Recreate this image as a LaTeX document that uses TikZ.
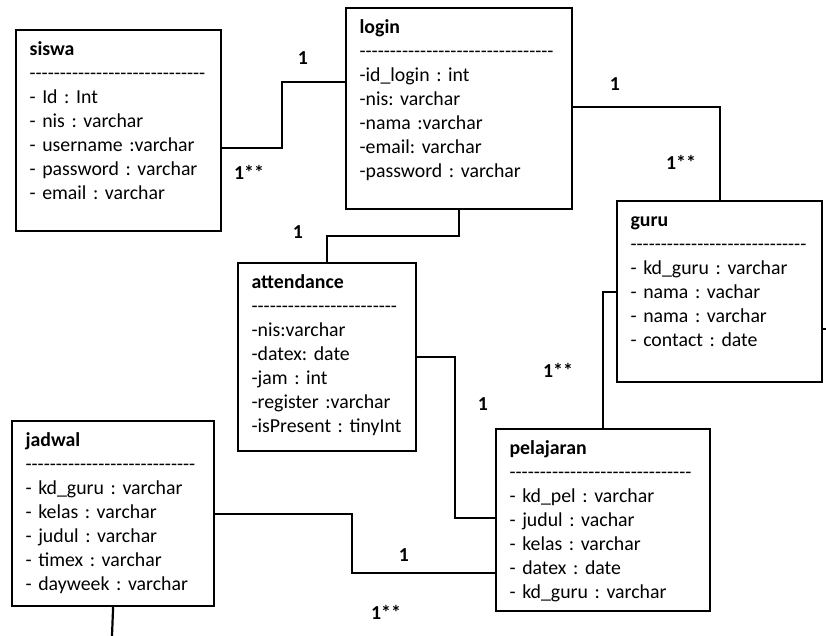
\documentclass[tikz,border=0pt]{standalone}
\usepackage{fontspec}
\setmainfont{Carlito}[Ligatures=TeXOff, WordSpace=0.75]
\begin{document}
\begin{tikzpicture}[x=1pt,y=-1pt,
  font=\fontsize{19.8pt}{24pt}\selectfont\frenchspacing,
  entity/.style={draw, line width=2.2pt, anchor=north west, align=left,
    inner xsep=13.5pt, inner ysep=0pt, text height=25pt},
  link/.style={line width=2.2pt},
  card/.style={font=\fontsize{19.8pt}{24pt}\selectfont\bfseries}]
  \useasboundingbox (0,0) rectangle (826,636);
  % tables
  \node[entity, text width=178pt, text depth=176pt] (siswa) at (15,29) {\textbf{siswa}\\
    -----------------------------\\
    - Id : Int\\- nis : varchar\\- username :varchar\\- password : varchar\\- email : varchar};
  \node[entity, text width=199pt, text depth=176pt] (login) at (345,7) {\textbf{login}\\
    --------------------------------\\
    -id\_login : int\\-nis: varchar\\-nama :varchar\\-email: varchar\\-password : varchar};
  \node[entity, text width=178pt, text depth=156pt] (guru) at (616,200) {\textbf{guru}\\
    -----------------------------\\
    - kd\_guru : varchar\\- nama : vachar\\- nama : varchar\\- contact : date};
  \node[entity, text width=151pt, text depth=163pt] (attendance) at (237,262) {\textbf{attendance}\\
    ------------------------\\
    -nis:varchar\\-datex: date\\-jam : int\\-register :varchar\\-isPresent : tinyInt};
  \node[entity, text width=175pt, text depth=160pt] (jadwal) at (11,420) {\textbf{jadwal}\\
    ----------------------------\\
    - kd\_guru : varchar\\- kelas : varchar\\- judul : varchar\\- timex : varchar\\- dayweek : varchar};
  \node[entity, text width=187pt, text depth=157pt] (pelajaran) at (495,428) {\textbf{pelajaran}\\
    ------------------------------\\
    - kd\_pel : varchar\\- judul : vachar\\- kelas : varchar\\- datex : date\\- kd\_guru : varchar};
  % loose ends
  \coordinate (jadwal-end) at (112,636);
  \coordinate (guru-end) at (826,329);
  % relations
  \draw[link] (siswa.east |- 0,148) -| (282,82) -- (login.west |- 0,82);
  \draw[link] (login.east |- 0,107) -| (guru.north);
  \draw[link] (login.south) -- ++(0,26) -| (attendance.north);
  \draw[link] (attendance.east) -| (455,518) -- (pelajaran.west |- 0,518);
  \draw[link] (guru.west) -| (pelajaran.north);
  \draw[link] (jadwal.east) -| (352,573) -- (pelajaran.west |- 0,573);
  \draw[link] (jadwal.south) -- (jadwal-end);
  \draw[link] (guru.east |- 0,329) -- (guru-end);
  % multiplicities
  \node[card] (m1) at (303,58) {1};
  \node[card] (m2) at (249,172) {1**};
  \node[card] (m3) at (615,84) {1};
  \node[card] (m4) at (681,162) {1**};
  \node[card] (m5) at (298,232) {1};
  \node[card] (m6) at (483,404) {1};
  \node[card] (m7) at (558,370) {1**};
  \node[card] (m8) at (404,555) {1};
  \node[card] (m9) at (386,612) {1**};
\end{tikzpicture}
\end{document}
